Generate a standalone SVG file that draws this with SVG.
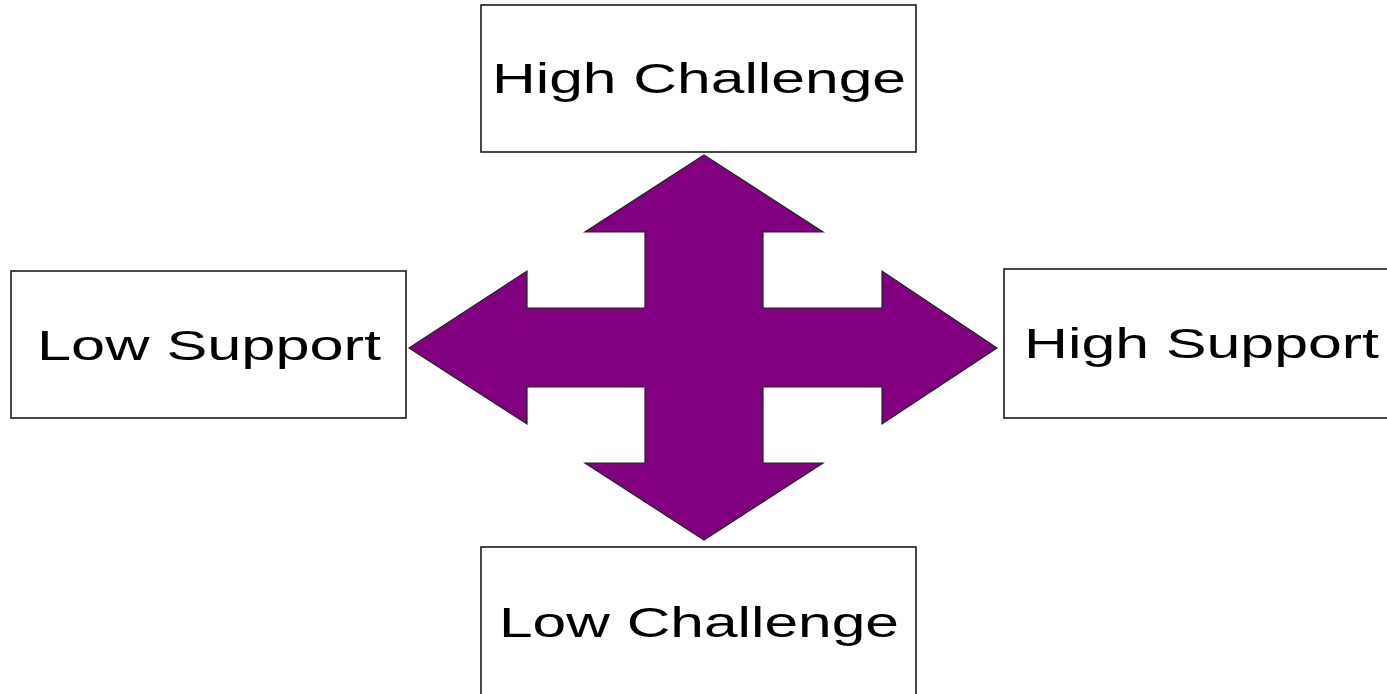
<svg xmlns="http://www.w3.org/2000/svg" width="1387" height="694" viewBox="0 0 1387 694">
<style>
.box{fill:#ffffff;stroke:#1a1a1a;stroke-width:1.6}
.lbl{font-family:"Liberation Sans",Arial,sans-serif;font-size:42px;fill:#000000}
.arrow{fill:#800080;stroke:#222222;stroke-width:1.2;stroke-linejoin:miter}
</style>
<rect width="1387" height="694" fill="#ffffff"/>
<g id="connectors">
<polygon class="arrow" points="704,155 823,232 763,232 763,308 882,308 882,271 997,348 882,424 882,387 763,387 763,463 823,463 704,540 585,463 645,463 645,387 527,387 527,424 409,348 527,271 527,308 645,308 645,232 585,232"/>
</g>
<g id="high-challenge">
<rect class="box" x="481" y="5" width="435" height="147"/>
<text class="lbl" x="492" y="93" textLength="414" lengthAdjust="spacingAndGlyphs">High Challenge</text>
</g>
<g id="low-support">
<rect class="box" x="11" y="271" width="395" height="147"/>
<text class="lbl" x="37" y="360" textLength="344" lengthAdjust="spacingAndGlyphs">Low Support</text>
</g>
<g id="high-support">
<rect class="box" x="1004" y="269" width="400" height="149"/>
<text class="lbl" x="1024" y="358" textLength="355" lengthAdjust="spacingAndGlyphs">High Support</text>
</g>
<g id="low-challenge">
<rect class="box" x="481" y="547" width="435" height="160"/>
<text class="lbl" x="499" y="637" textLength="400" lengthAdjust="spacingAndGlyphs">Low Challenge</text>
</g>
</svg>
